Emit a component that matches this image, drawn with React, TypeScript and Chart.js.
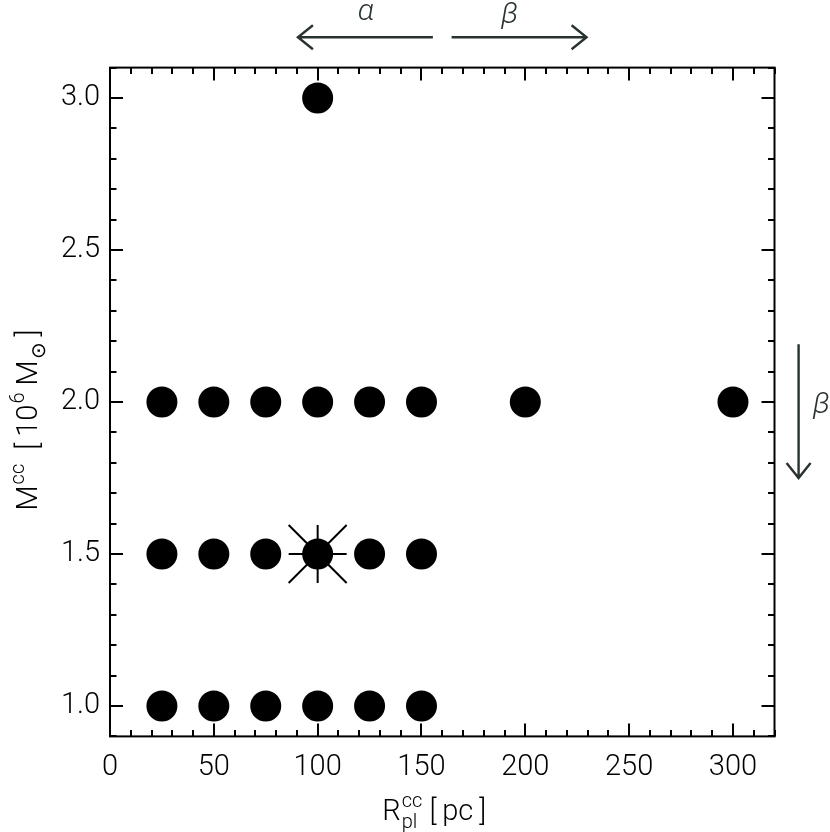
import React, { useEffect, useRef } from "react";
import { Chart, registerables } from "chart.js";

Chart.register(...registerables);

// ---- axis ticks ----
const X_TICKS = [0, 50, 100, 150, 200, 250, 300];
const Y_TICKS = [1.0, 1.5, 2.0, 2.5, 3.0];
const X_MIN = 0;
const X_MAX = 320;
const Y_MIN = 0.9;
const Y_MAX = 3.1;
const X_MINOR_STEP = 10;
const Y_MINOR_STEP = 0.1;

// ---- data: R_pl^cc [pc] for each cloud mass M^cc [10^6 Msun] ----
const R_AT_M10 = [25, 50, 75, 100, 125, 150];
const R_AT_M15 = [25, 50, 75, 100, 125, 150];
const R_AT_M20 = [25, 50, 75, 100, 125, 150, 200, 300];
const R_AT_M30 = [100];
const MASSES = [1.0, 1.5, 2.0, 3.0];
const FIDUCIAL_R = [100];
const FIDUCIAL_M = [1.5];

// ---- annotation arrows (data coordinates) ----
const ALPHA_ARROW = { from: 155.5, to: 90.5, y: 3.2, labelX: 123.2, labelY: 3.28 };
const BETA_ARROW_H = { from: 164.5, to: 229.5, y: 3.2, labelX: 192.5, labelY: 3.27 };
const BETA_ARROW_V = { x: 331.6, from: 2.19, to: 1.75, labelX: 342.6, labelY: 1.99 };

const FONT_FAMILY = "Roboto, 'Liberation Sans', sans-serif";
const ARROW_COLOR = "#28332e";

type Part = { text?: string; sup?: string; sub?: string };

function drawRich(ctx: CanvasRenderingContext2D, parts: Part[], cx: number, baseY: number) {
  const big = `300 29px ${FONT_FAMILY}`;
  const small = `300 20px ${FONT_FAMILY}`;
  const widths = parts.map((p) => {
    if (p.text !== undefined) {
      ctx.font = big;
      return ctx.measureText(p.text).width;
    }
    ctx.font = small;
    return Math.max(p.sup ? ctx.measureText(p.sup).width : 0, p.sub ? ctx.measureText(p.sub).width : 0) + 1;
  });
  const total = widths.reduce((a, b) => a + b, 0);
  let x = cx - total / 2;
  ctx.textAlign = "left";
  ctx.textBaseline = "alphabetic";
  ctx.fillStyle = "#000";
  parts.forEach((p, i) => {
    if (p.text !== undefined) {
      ctx.font = big;
      ctx.fillText(p.text, x, baseY);
    } else {
      ctx.font = small;
      if (p.sup) ctx.fillText(p.sup, x + 1, baseY - 13);
      if (p.sub) ctx.fillText(p.sub, x + 1, baseY + 8);
    }
    x += widths[i];
  });
}

function arrow(ctx: CanvasRenderingContext2D, x1: number, y1: number, x2: number, y2: number) {
  const ang = Math.atan2(y2 - y1, x2 - x1);
  const hl = 15;
  const hw = 12;
  ctx.beginPath();
  ctx.moveTo(x1, y1);
  ctx.lineTo(x2, y2);
  const bx = x2 - hl * Math.cos(ang);
  const by = y2 - hl * Math.sin(ang);
  const nx = -Math.sin(ang) * hw;
  const ny = Math.cos(ang) * hw;
  ctx.moveTo(bx + nx, by + ny);
  ctx.lineTo(x2, y2);
  ctx.lineTo(bx - nx, by - ny);
  ctx.stroke();
}

const framePlugin = {
  id: "idlFrame",
  afterDraw(chart: any) {
    const { ctx, chartArea: a, scales } = chart;
    const xs = scales.x;
    const ys = scales.y;
    ctx.save();
    ctx.strokeStyle = "#000";
    ctx.lineWidth = 2;
    ctx.strokeRect(a.left, a.top, a.right - a.left, a.bottom - a.top);

    // x ticks (bottom and top, pointing inward)
    const nx = Math.round((X_MAX - X_MIN) / X_MINOR_STEP);
    ctx.beginPath();
    for (let i = 0; i <= nx; i++) {
      const v = X_MIN + i * X_MINOR_STEP;
      const major = X_TICKS.some((t) => Math.abs(t - v) < 1e-6);
      const len = major ? 13 : 6.5;
      const px = Math.round(xs.getPixelForValue(v));
      ctx.moveTo(px, a.bottom);
      ctx.lineTo(px, a.bottom - len);
      ctx.moveTo(px, a.top);
      ctx.lineTo(px, a.top + len);
    }
    // y ticks (left and right)
    const ny = Math.round((Y_MAX - Y_MIN) / Y_MINOR_STEP);
    for (let i = 0; i <= ny; i++) {
      const v = Y_MIN + i * Y_MINOR_STEP;
      const major = Y_TICKS.some((t) => Math.abs(t - v) < 1e-6);
      const len = major ? 13 : 6.5;
      const py = Math.round(ys.getPixelForValue(v));
      ctx.moveTo(a.left, py);
      ctx.lineTo(a.left + len, py);
      ctx.moveTo(a.right, py);
      ctx.lineTo(a.right - len, py);
    }
    ctx.stroke();

    // axis titles
    const cxPlot = (a.left + a.right) / 2;
    drawRich(
      ctx,
      [{ text: "R" }, { sup: "cc", sub: "pl" }, { text: " [\u2009pc\u2009]" }],
      cxPlot - 8,
      820
    );

    ctx.save();
    ctx.translate(37, (a.top + a.bottom) / 2 + 18);
    ctx.rotate(-Math.PI / 2);
    drawRich(
      ctx,
      [
        { text: "M" },
        { sup: "cc" },
        { text: "  [\u200910" },
        { sup: "6" },
        { text: " M" },
        { sub: "\u2299" },
        { text: "\u2009]" },
      ],
      0,
      0
    );
    ctx.restore();

    // arrows
    ctx.strokeStyle = ARROW_COLOR;
    ctx.lineWidth = 2.4;
    arrow(
      ctx,
      xs.getPixelForValue(ALPHA_ARROW.from),
      ys.getPixelForValue(ALPHA_ARROW.y),
      xs.getPixelForValue(ALPHA_ARROW.to),
      ys.getPixelForValue(ALPHA_ARROW.y)
    );
    arrow(
      ctx,
      xs.getPixelForValue(BETA_ARROW_H.from),
      ys.getPixelForValue(BETA_ARROW_H.y),
      xs.getPixelForValue(BETA_ARROW_H.to),
      ys.getPixelForValue(BETA_ARROW_H.y)
    );
    arrow(
      ctx,
      xs.getPixelForValue(BETA_ARROW_V.x),
      ys.getPixelForValue(BETA_ARROW_V.from),
      xs.getPixelForValue(BETA_ARROW_V.x),
      ys.getPixelForValue(BETA_ARROW_V.to)
    );
    ctx.fillStyle = ARROW_COLOR;
    ctx.font = `italic 300 30px ${FONT_FAMILY}`;
    ctx.textAlign = "center";
    ctx.textBaseline = "middle";
    ctx.fillText("\u03B1", xs.getPixelForValue(ALPHA_ARROW.labelX), ys.getPixelForValue(ALPHA_ARROW.labelY));
    ctx.fillText("\u03B2", xs.getPixelForValue(BETA_ARROW_H.labelX), ys.getPixelForValue(BETA_ARROW_H.labelY));
    ctx.fillText("\u03B2", xs.getPixelForValue(BETA_ARROW_V.labelX), ys.getPixelForValue(BETA_ARROW_V.labelY));
    ctx.restore();
  },
};

export default function App() {
  const canvasRef = useRef<HTMLCanvasElement | null>(null);

  useEffect(() => {
    if (!canvasRef.current) return;
    const rows = [R_AT_M10, R_AT_M15, R_AT_M20, R_AT_M30];
    const points = rows.flatMap((rs, i) => rs.map((r) => ({ x: r, y: MASSES[i] })));
    const fiducial = FIDUCIAL_R.map((r, i) => ({ x: r, y: FIDUCIAL_M[i] }));
    const tickFont = { family: FONT_FAMILY, size: 29, weight: 300 as any };

    const chart = new Chart(canvasRef.current, {
      type: "scatter",
      data: {
        datasets: [
          {
            data: fiducial,
            pointStyle: "cross",
            pointRadius: 29,
            pointHoverRadius: 29,
            pointBorderColor: "#000",
            pointBorderWidth: 2,
            pointBackgroundColor: "#000",
          },
          {
            data: fiducial,
            pointStyle: "crossRot",
            pointRadius: 41,
            pointHoverRadius: 41,
            pointBorderColor: "#000",
            pointBorderWidth: 2,
            pointBackgroundColor: "#000",
          },
          {
            data: points,
            pointStyle: "circle",
            pointRadius: 15.5,
            pointHoverRadius: 15.5,
            pointBackgroundColor: "#000",
            pointBorderWidth: 0,
            pointBorderColor: "#000",
          },
        ],
      },
      options: {
        animation: false,
        responsive: false,
        events: [],
        layout: { padding: { top: 67.6, right: 55.5, left: 0, bottom: 0 } },
        plugins: { legend: { display: false }, tooltip: { enabled: false } },
        scales: {
          x: {
            type: "linear",
            position: "bottom",
            min: X_MIN,
            max: X_MAX,
            afterBuildTicks: (s: any) => {
              s.ticks = X_TICKS.map((v) => ({ value: v }));
            },
            afterFit: (s: any) => {
              s.height = 95.6;
            },
            ticks: {
              font: tickFont,
              color: "#000",
              padding: 14,
              maxRotation: 0,
              autoSkip: false,
              callback: (v: any) => String(v),
            },
            grid: { display: false, drawTicks: false },
            border: { display: false },
          },
          y: {
            type: "linear",
            position: "left",
            min: Y_MIN,
            max: Y_MAX,
            afterBuildTicks: (s: any) => {
              s.ticks = Y_TICKS.map((v) => ({ value: v }));
            },
            afterFit: (s: any) => {
              s.width = 110;
            },
            ticks: {
              font: tickFont,
              color: "#000",
              padding: 10,
              autoSkip: false,
              callback: (v: any) => Number(v).toFixed(1),
            },
            grid: { display: false, drawTicks: false },
            border: { display: false },
          },
        },
      },
      plugins: [framePlugin],
    });
    return () => chart.destroy();
  }, []);

  return (
    <div style={{ position: "fixed", left: 0, top: 0, width: 830, height: 832, background: "#fff" }}>
      <canvas ref={canvasRef} width={830} height={832} style={{ width: 830, height: 832, display: "block" }} />
    </div>
  );
}
